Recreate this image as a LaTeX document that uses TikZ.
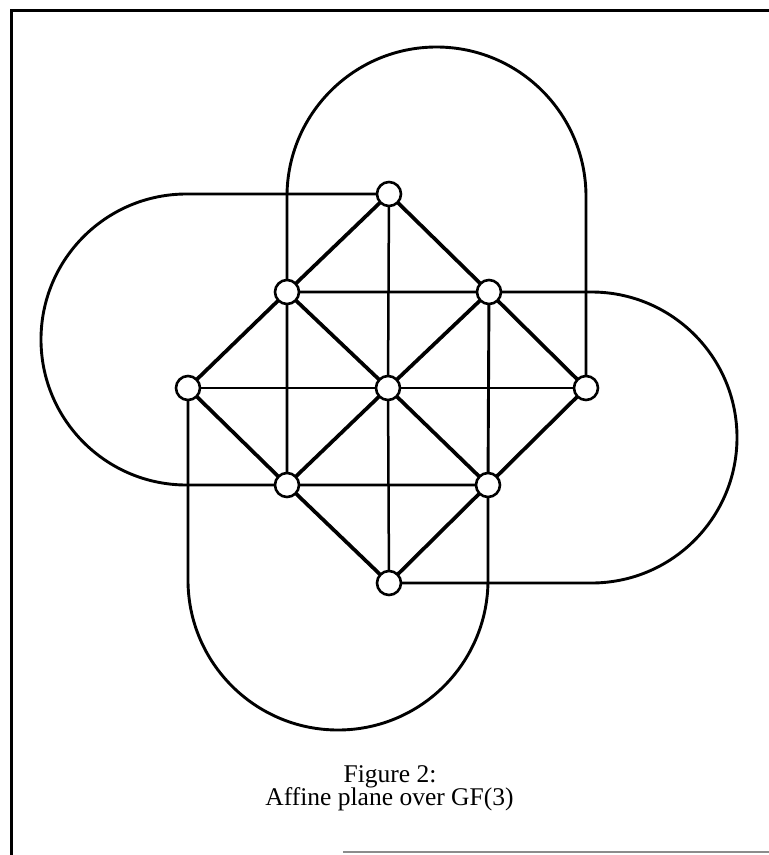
\documentclass[tikz,border=0pt]{standalone}
\usepackage{fontspec}
\setmainfont{Liberation Serif}
\begin{document}
\begin{tikzpicture}[x=1pt,y=-1pt,
  pt/.style={circle,draw,fill=white,line width=2.6pt,inner sep=0pt,minimum size=24pt},
  diag/.style={line width=3.7pt},
  thin/.style={line width=2.5pt},
  loopline/.style={line width=2.9pt},
  frame/.style={line width=3pt},
  caption/.style={font=\fontsize{25.5}{30}\selectfont,anchor=base,inner sep=0pt}]
  \useasboundingbox (0,0) rectangle (769,855);

  % frame
  \draw[frame] (11,855) -- (11,10) -- (769,10);
  \draw[line width=2pt,black!45] (343,852) -- (769,852);

  % the nine points
  \coordinate (pT) at (389,194);
  \coordinate (pUL) at (287,292);
  \coordinate (pUR) at (489,292);
  \coordinate (pL) at (188,388);
  \coordinate (pC) at (388,388);
  \coordinate (pR) at (586,388);
  \coordinate (pLL) at (287,485);
  \coordinate (pLR) at (488,485);
  \coordinate (pB) at (389,583);

  % curved lines (drawn first, points go on top)
  \draw[loopline] (pLL) -- (pUL) -- (287,196.5)
      arc[start angle=180,end angle=0,radius=149.5pt] -- (pR);
  \draw[loopline] (pUL) -- (pUR) -- (591.5,292)
      arc[start angle=90,end angle=-90,radius=145.5pt] -- (pB);
  \draw[loopline] (pUR) -- (pLR) -- (488,580)
      arc[start angle=0,end angle=-180,radius=150pt] -- (pL);
  \draw[loopline] (pLR) -- (pLL) -- (186.5,485)
      arc[start angle=-90,end angle=-270,radius=145.5pt] -- (pT);

  % straight lines
  \draw[thin] (pL) -- (pC) -- (pR);
  \draw[thin] (pT) -- (pC) -- (pB);
  \draw[diag] (pT) -- (pUR) -- (pR);
  \draw[diag] (pUL) -- (pC) -- (pLR);
  \draw[diag] (pL) -- (pLL) -- (pB);
  \draw[diag] (pT) -- (pUL) -- (pL);
  \draw[diag] (pUR) -- (pC) -- (pLL);
  \draw[diag] (pR) -- (pLR) -- (pB);

  % points
  \foreach \n in {T,UL,UR,L,C,R,LL,LR,B}
    \node[pt] (n\n) at (p\n) {};

  % caption
  \node[caption] (cap1) at (390,782) {Figure 2:};
  \node[caption] (cap2) at (389.5,805) {Affine plane over GF(3)};
\end{tikzpicture}
\end{document}
